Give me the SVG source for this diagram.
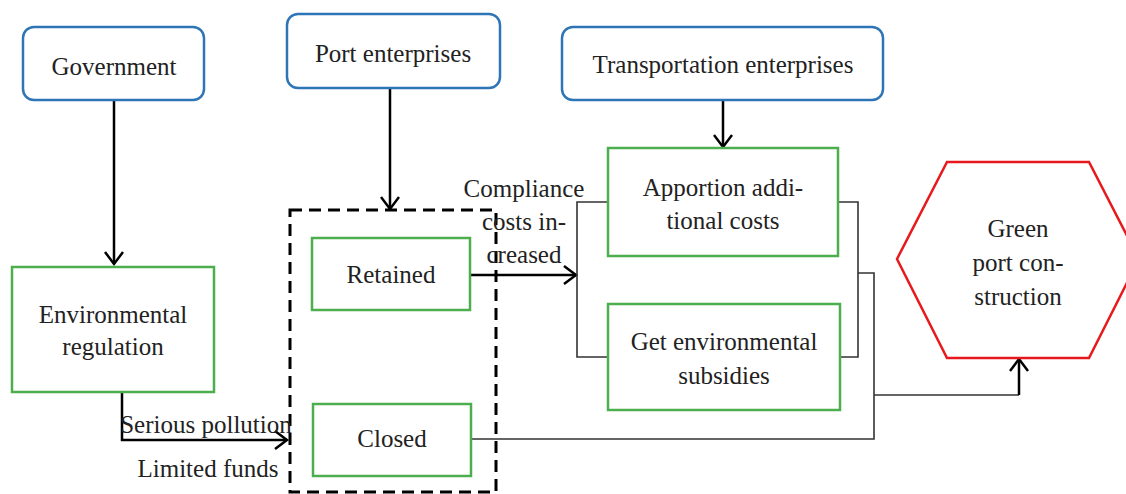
<svg xmlns="http://www.w3.org/2000/svg" width="1126" height="494" viewBox="0 0 1126 494">
<defs>
<style>
text{font-family:"Liberation Serif","Times New Roman",serif;font-size:25px;fill:#222;text-anchor:middle}
.actor{fill:#fff;stroke:#2e75b6;stroke-width:2.5}
.step{fill:#fff;stroke:#4cae4c;stroke-width:2.5}
.goal{fill:#fff;stroke:#e8191c;stroke-width:2.5}
.arrow{fill:none;stroke:#000;stroke-width:2.5;marker-end:url(#ah)}
.thin{fill:none;stroke:#333;stroke-width:1.6}
.dash{fill:none;stroke:#000;stroke-width:3;stroke-dasharray:12 7}
</style>
<marker id="ah" markerUnits="userSpaceOnUse" markerWidth="30" markerHeight="30" viewBox="-15 -15 30 30" refX="0" refY="0" orient="auto">
<path d="M-12,-9 L0,0 L-12,9" fill="none" stroke="#000" stroke-width="2.5"/>
</marker>
</defs>
<rect width="1126" height="494" fill="#fff"/>
<g id="connectors">
<path class="arrow" d="M114,100 V264"/>
<path class="arrow" d="M390,88 V209"/>
<path class="arrow" d="M723,100 V147"/>
<path class="arrow" d="M470,275 H576"/>
<path class="arrow" d="M122,392 V440 H287"/>
<path class="thin" d="M608,202 H577 V357 H608"/>
<path class="thin" d="M838,202 H858 V357 H840"/>
<path class="thin" d="M858,273 H874 V439 H471"/>
<path class="thin" d="M874,395 H1019"/>
<path class="arrow" d="M1019,395 V359"/>
</g>
<g id="port-group">
<rect class="dash" x="290" y="210" width="206" height="282"/>
</g>
<g id="government">
<rect class="actor" x="23" y="27" width="181" height="73" rx="11"/>
<text x="114" y="75">Government</text>
</g>
<g id="port-enterprises">
<rect class="actor" x="287" y="14" width="213" height="74" rx="11"/>
<text x="393" y="62">Port enterprises</text>
</g>
<g id="transportation-enterprises">
<rect class="actor" x="562" y="27" width="321" height="73" rx="11"/>
<text x="723" y="73">Transportation enterprises</text>
</g>
<g id="environmental-regulation">
<rect class="step" x="12" y="267" width="202" height="125"/>
<text x="113" y="323">Environmental</text>
<text x="113" y="355">regulation</text>
</g>
<g id="retained">
<rect class="step" x="312" y="238" width="158" height="72"/>
<text x="391" y="283">Retained</text>
</g>
<g id="closed">
<rect class="step" x="313" y="404" width="158" height="72"/>
<text x="392" y="447">Closed</text>
</g>
<g id="apportion">
<rect class="step" x="608" y="148" width="230" height="108"/>
<text x="723" y="196">Apportion addi-</text>
<text x="723" y="229">tional costs</text>
</g>
<g id="subsidies">
<rect class="step" x="608" y="304" width="232" height="106"/>
<text x="724" y="350">Get environmental</text>
<text x="724" y="384">subsidies</text>
</g>
<g id="green-port">
<polygon class="goal" points="897,259 947,162 1089,162 1139,259 1089,358 947,358"/>
<text x="1018" y="237">Green</text>
<text x="1018" y="271">port con-</text>
<text x="1018" y="305">struction</text>
</g>
<g id="labels">
<text x="524" y="197">Compliance</text>
<text x="524" y="230">costs in-</text>
<text x="524" y="263">creased</text>
<text x="206" y="433">Serious pollution</text>
<text x="208" y="477">Limited funds</text>
</g>
</svg>
